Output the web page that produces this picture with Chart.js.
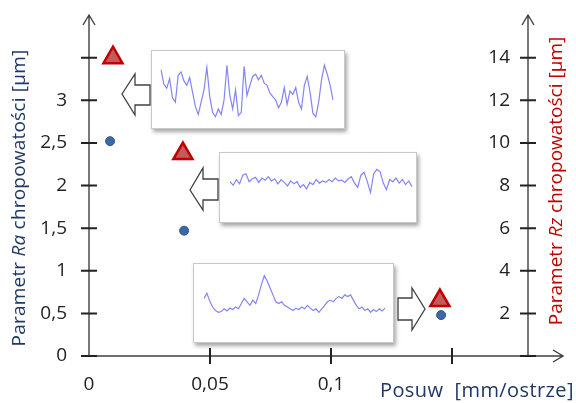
<!DOCTYPE html>
<html>
<head>
<meta charset="utf-8">
<script src="https://cdn.jsdelivr.net/npm/chart.js@4"></script>
<style>
  body { margin: 0; background: #fff; }
  #wrap { position: relative; width: 576px; height: 403px; font-family: 'Open Sans', sans-serif; }
  #main { position: absolute; left: 0; top: 0; }
  .inset { position: absolute; background: #fff; border: 1px solid #c8c8c8; box-shadow: 2px 3px 4px rgba(0,0,0,0.35); }
  .inset canvas { position: absolute; left: 0; top: 0; }
  .ttl { position: absolute; font-size: 19px; white-space: nowrap; text-align: center; line-height: 24px; }
  svg.arr { position: absolute; left: 0; top: 0; pointer-events: none; }
</style>
</head>
<body>
<div id="wrap">
  <canvas id="main" width="576" height="403"></canvas>
  <div class="inset" id="box1" style="left:151px;top:50px;width:192px;height:77px"><canvas id="p1" width="192" height="77"></canvas></div>
  <div class="inset" id="box2" style="left:219px;top:152px;width:196px;height:69px"><canvas id="p2" width="196" height="69"></canvas></div>
  <div class="inset" id="box3" style="left:193px;top:263px;width:199px;height:78px"><canvas id="p3" width="199" height="78"></canvas></div>
  <svg class="arr" width="576" height="403">
    <g fill="#fff" stroke="#404040" stroke-width="1.3" stroke-linejoin="miter">
      <polygon points="122,94 135,74 135,85 150,85 150,105 135,105 135,115"/>
      <polygon points="190,190 203,168 203,179 218,179 218,200 203,200 203,210"/>
      <polygon points="398,298 412,298 412,288 425,309 412,330 412,320 398,320"/>
    </g>
  </svg>
  <div class="ttl" style="left:-162px;top:186px;width:360px;color:#1f3864;transform:rotate(-90deg);letter-spacing:0.2px">Parametr <i>Ra</i> chropowatości [µm]</div>
  <div class="ttl" style="left:375px;top:169px;width:360px;color:#c00000;transform:rotate(-90deg)">Parametr <i>Rz</i> chropowatości [µm]</div>
  <div class="ttl" style="left:380px;top:378px;color:#1f3864;text-align:left;font-size:20px;letter-spacing:0.4px">Posuw&nbsp; [mm/ostrze]</div>
</div>
<script>
// dane
const feedRa = [0.0087, 0.0393, 0.1455];
const valRa = [2.52, 1.47, 0.48];
const feedRz = [0.0099, 0.0388, 0.1450];
const valRz = [14.0, 9.5, 2.6];

const xTicks = [0, 0.05, 0.1, 0.15];
const xLabels = ['0', '0,05', '0,1', ''];
const raTicks = [0, 0.5, 1, 1.5, 2, 2.5, 3, 3.5];
const raLabels = ['0', '0,5', '1', '1,5', '2', '2,5', '3', ''];
const rzTicks = [0, 2, 4, 6, 8, 10, 12, 14];
const rzLabels = ['', '2', '4', '6', '8', '10', '12', '14'];

// profile chropowatosci (wysokosc 0-100, z obrazkow)
const prof1 = [88,62,55,72,38,30,78,84,68,60,74,48,22,8,30,52,92,40,12,4,18,8,34,96,42,18,52,6,12,94,42,60,76,80,70,78,64,60,46,40,34,20,30,56,26,50,44,56,30,18,60,76,48,10,4,30,70,96,80,60,34];
const prof2 = [82,72,88,76,100,104,82,90,94,80,92,86,96,84,90,76,88,80,70,84,76,82,66,74,62,80,74,88,78,84,80,88,82,92,84,86,80,90,96,78,66,100,108,82,52,104,116,110,78,60,88,82,92,78,88,74,84,68];
const prof3 = [60,75,52,35,25,20,22,30,24,32,28,35,30,45,60,50,40,55,45,70,100,125,110,90,70,50,45,50,40,35,30,25,32,28,35,30,40,32,25,30,20,30,40,50,55,50,60,65,60,70,65,70,55,40,30,35,25,30,20,28,22,30,24,32];

const AX = '#404040';
const FONT = "'Open Sans', sans-serif";

const axesPlugin = {
  id: 'axesPlugin',
  afterDraw(c) {
    const ctx = c.ctx;
    const x = c.scales.x, yl = c.scales.yRa, yr = c.scales.yRz;
    const x0 = x.getPixelForValue(0), xr = x.right;
    const yb = yl.getPixelForValue(0), yt = yl.top;
    ctx.save();
    ctx.strokeStyle = AX;
    ctx.lineWidth = 1.4;
    ctx.beginPath();
    // os lewa
    ctx.moveTo(x0, yb); ctx.lineTo(x0, yt);
    ctx.moveTo(x0 - 6, yt + 10); ctx.lineTo(x0, yt); ctx.lineTo(x0 + 6, yt + 10);
    // os prawa
    ctx.moveTo(xr, yb); ctx.lineTo(xr, yt);
    ctx.moveTo(xr - 6, yt + 10); ctx.lineTo(xr, yt); ctx.lineTo(xr + 6, yt + 10);
    // os pozioma
    const xe = xr + 35;
    ctx.moveTo(x0, yb); ctx.lineTo(xe, yb);
    ctx.moveTo(xe - 10, yb - 6); ctx.lineTo(xe, yb); ctx.lineTo(xe - 10, yb + 6);
    ctx.stroke();
    ctx.lineWidth = 2;
    ctx.strokeStyle = '#222';
    ctx.beginPath();
    raTicks.forEach(v => { const p = yl.getPixelForValue(v); ctx.moveTo(x0 - 8, p); ctx.lineTo(x0 + 8, p); });
    rzTicks.forEach(v => { const p = yr.getPixelForValue(v); ctx.moveTo(xr - 8, p); ctx.lineTo(xr + 8, p); });
    xTicks.slice(1).forEach(v => { const p = x.getPixelForValue(v); ctx.moveTo(p, yb - 8); ctx.lineTo(p, yb + 8); });
    ctx.stroke();
    ctx.restore();
  }
};

// wymuszone rozmiary osi, bez automatycznego marginesu od etykiet
function fixY(width) {
  return (s) => { s.width = width; s.paddingTop = 0; s.paddingBottom = 0; };
}

new Chart(document.getElementById('main'), {
  type: 'scatter',
  data: {
    datasets: [
      {
        label: 'Rz',
        yAxisID: 'yRz',
        data: feedRz.map((f, i) => ({ x: f, y: valRz[i] })),
        pointStyle: 'triangle',
        pointRadius: 11,
        backgroundColor: '#c55a5a',
        borderColor: '#c00000',
        borderWidth: 2.5,
      },
      {
        label: 'Ra',
        yAxisID: 'yRa',
        data: feedRa.map((f, i) => ({ x: f, y: valRa[i] })),
        pointStyle: 'circle',
        pointRadius: 4.5,
        backgroundColor: '#3b68a6',
        borderColor: '#2d5690',
        borderWidth: 1,
      },
    ],
  },
  options: {
    responsive: false,
    animation: false,
    layout: { padding: { top: 15, left: 0, right: 0, bottom: 0 } },
    plugins: { legend: { display: false }, tooltip: { enabled: false } },
    scales: {
      x: {
        type: 'linear',
        min: 0,
        max: 0.1814,
        grid: { display: false, drawTicks: false },
        border: { display: false },
        afterBuildTicks: (s) => { s.ticks = xTicks.map(v => ({ value: v })); },
        afterFit: (s) => { s.height = 47; s.paddingLeft = 0; s.paddingRight = 0; },
        ticks: {
          autoSkip: false,
          maxRotation: 0,
          padding: 17,
          color: '#222',
          font: { family: FONT, size: 19 },
          callback: (v, i) => xLabels[i],
        },
      },
      yRa: {
        position: 'left',
        min: 0,
        max: 4,
        grid: { display: false, drawTicks: false },
        border: { display: false },
        afterBuildTicks: (s) => { s.ticks = raTicks.map(v => ({ value: v })); },
        afterFit: fixY(89),
        ticks: {
          autoSkip: false,
          padding: 22,
          color: '#222',
          font: { family: FONT, size: 19 },
          callback: (v, i) => raLabels[i],
        },
      },
      yRz: {
        position: 'right',
        min: 0,
        max: 16,
        grid: { display: false, drawTicks: false },
        border: { display: false },
        afterBuildTicks: (s) => { s.ticks = rzTicks.map(v => ({ value: v })); },
        afterFit: fixY(48),
        ticks: {
          autoSkip: false,
          mirror: true,
          padding: -18,
          color: '#222',
          font: { family: FONT, size: 19 },
          callback: (v, i) => rzLabels[i],
        },
      },
    },
  },
  plugins: [axesPlugin],
});

// wstawki z profilami
function profile(id, values, pad, yMin, yMax) {
  new Chart(document.getElementById(id), {
    type: 'line',
    data: {
      labels: values.map((_, i) => i),
      datasets: [{
        data: values,
        borderColor: 'rgba(80,80,240,0.7)',
        borderWidth: 1.2,
        pointRadius: 0,
        tension: 0,
      }],
    },
    options: {
      responsive: false,
      animation: false,
      layout: { padding: pad },
      plugins: { legend: { display: false }, tooltip: { enabled: false } },
      scales: {
        x: { display: false },
        y: { display: false, min: yMin, max: yMax },
      },
    },
  });
}

profile('p1', prof1, { left: 9, right: 11, top: 12, bottom: 9 }, 0, 100);
profile('p2', prof2, { left: 10, right: 4, top: 15, bottom: 27 }, 45, 120);
profile('p3', prof3, { left: 10, right: 8, top: 10, bottom: 28 }, 15, 130);
</script>
</body>
</html>
